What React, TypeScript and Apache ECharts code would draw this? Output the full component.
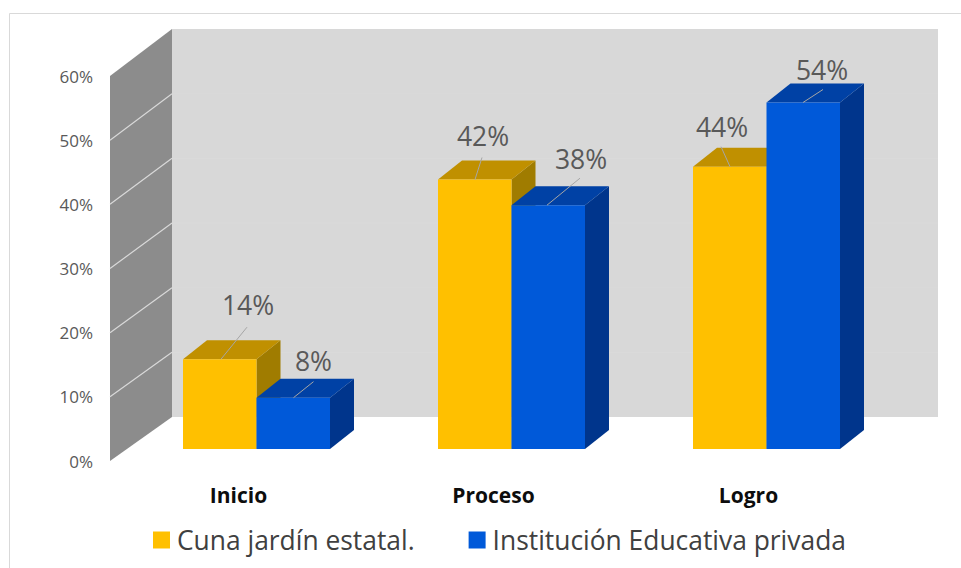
import React, { useEffect, useRef } from "react";
import * as echarts from "echarts";

const categories = ["Inicio", "Proceso", "Logro"];
const cunaValues = [14, 42, 44];
const privadaValues = [8, 38, 54];
const yTicks = [0, 10, 20, 30, 40, 50, 60];
const cunaName = "Cuna jardín estatal.";
const privadaName = "Institución Educativa privada";

const FONT = "'Open Sans', sans-serif";
const FLOOR_LIFT = 12; // bars stand this far above the front edge of the floor
const BAR_W = 73.5;
const DEPTH_X = 24;
const DEPTH_Y = 19;

// label placement per bar: line start x, line end x/y, text centre x/y, relative to the bar's top-left
const cunaLabelPos = [
  [38, 64, -32, 65, -54],
  [37, 44, -22, 45, -44],
  [37, 28, -20, 29, -40],
];
const privadaLabelPos = [
  [37, 57, -16, 57, -37],
  [35.5, 68.5, -27, 69.5, -46],
  [36.5, 56.5, -13, 55.5, -33],
];

function barRenderer(side: number, front: string, top: string, right: string, labelPos: number[][]) {
  return (params: any, api: any) => {
    const idx = api.value(0);
    const v = api.value(1);
    const p = api.coord([idx, v]);
    const base = api.coord([idx, 0]);
    const x0 = p[0] + (side === 0 ? -BAR_W : 0);
    const x1 = x0 + BAR_W;
    const yT = p[1] - FLOOR_LIFT;
    const yB = base[1] - FLOOR_LIFT;
    const lp = labelPos[params.dataIndex];
    return {
      type: "group",
      children: [
        { type: "polygon", shape: { points: [[x1, yT], [x1 + DEPTH_X, yT - DEPTH_Y], [x1 + DEPTH_X, yB - DEPTH_Y], [x1, yB]] }, style: { fill: right } },
        { type: "polygon", shape: { points: [[x0, yT], [x0 + DEPTH_X, yT - DEPTH_Y], [x1 + DEPTH_X, yT - DEPTH_Y], [x1, yT]] }, style: { fill: top } },
        { type: "rect", shape: { x: x0, y: yT, width: BAR_W, height: yB - yT }, style: { fill: front } },
        { type: "line", shape: { x1: x0 + lp[0], y1: yT, x2: x0 + lp[1], y2: yT + lp[2] }, style: { stroke: "#a6a6a6", lineWidth: 1 } },
        {
          type: "text",
          x: x0 + lp[3],
          y: yT + lp[4],
          style: { text: v + "%", font: `26.5px ${FONT}`, fill: "#595959", align: "center", verticalAlign: "middle" },
        },
      ],
    };
  };
}

function wallRenderer(params: any, api: any) {
  const v = api.value(0);
  const frontX = params.coordSys.x - 19;
  const backX = frontX + 62;
  const backRight = 938;
  const yAt = (t: number) => api.coord([0, t])[1];
  const backY = (t: number) => yAt(t) - 44 - (t / 60) * 3;
  const children: any[] = [];
  if (params.dataIndex === 0) {
    children.push(
      { type: "polygon", shape: { points: [[frontX, yAt(0)], [backX, backY(0)], [backX, backY(60)], [frontX, yAt(60)]] }, style: { fill: "#8c8c8c" } },
      { type: "rect", shape: { x: backX, y: backY(60), width: backRight - backX, height: backY(0) - backY(60) }, style: { fill: "#d8d8d8" } },
    );
  }
  if (v > 0 && v < 60) {
    children.push(
      { type: "line", shape: { x1: frontX, y1: yAt(v), x2: backX, y2: backY(v) }, style: { stroke: "#d9d9d9", lineWidth: 1.2 } },
      { type: "line", shape: { x1: backX, y1: backY(v), x2: backRight, y2: backY(v) }, style: { stroke: "#dadada", lineWidth: 1 } },
    );
  }
  return { type: "group", children };
}

export default function App() {
  const ref = useRef<HTMLDivElement>(null);
  useEffect(() => {
    const chart = echarts.init(ref.current!, undefined, { renderer: "svg" });
    chart.setOption({
      animation: false,
      backgroundColor: "#ffffff",
      grid: { left: 129, top: 76, width: 765, height: 385 },
      xAxis: {
        type: "category",
        data: categories,
        axisLine: { show: false },
        axisTick: { show: false },
        axisLabel: {
          margin: 23,
          padding: [0, 36, 0, 0],
          fontFamily: FONT,
          fontSize: 21,
          fontWeight: "bold",
          color: "#0d0d0d",
        },
      },
      yAxis: {
        type: "value",
        min: 0,
        max: 60,
        interval: 10,
        axisLine: { show: false },
        axisTick: { show: false },
        splitLine: { show: false },
        axisLabel: {
          margin: 36,
          formatter: (v: number) => v + "%",
          fontFamily: FONT,
          fontSize: 17,
          color: "#595959",
        },
      },
      legend: {
        left: 148,
        top: 522,
        itemWidth: 17,
        itemHeight: 17,
        itemGap: 54,
        icon: "rect",
        data: [cunaName, privadaName],
        textStyle: { fontFamily: FONT, fontSize: 26.4, color: "#404040", padding: [0, 0, 0, 2] },
      },
      graphic: [
        {
          type: "polyline",
          silent: true,
          shape: { points: [[9.5, 568], [9.5, 13.5], [961, 13.5]] },
          style: { stroke: "#d9d9d9", fill: "none", lineWidth: 1 },
        },
      ],
      series: [
        {
          type: "custom",
          name: "walls",
          renderItem: wallRenderer,
          encode: { y: 0 },
          data: yTicks.map((t) => [t]),
          silent: true,
        },
        {
          type: "custom",
          name: cunaName,
          itemStyle: { color: "#FFC000" },
          renderItem: barRenderer(0, "#FFC000", "#C09000", "#A07C00", cunaLabelPos),
          encode: { x: 0, y: 1 },
          data: cunaValues.map((v, i) => [i, v]),
        },
        {
          type: "custom",
          name: privadaName,
          itemStyle: { color: "#0059D9" },
          renderItem: barRenderer(1, "#0059D9", "#0041A5", "#00358C", privadaLabelPos),
          encode: { x: 0, y: 1 },
          data: privadaValues.map((v, i) => [i, v]),
        },
      ],
    });
    return () => chart.dispose();
  }, []);
  return <div ref={ref} style={{ position: "absolute", left: 0, top: 0, width: 961, height: 568 }} />;
}
